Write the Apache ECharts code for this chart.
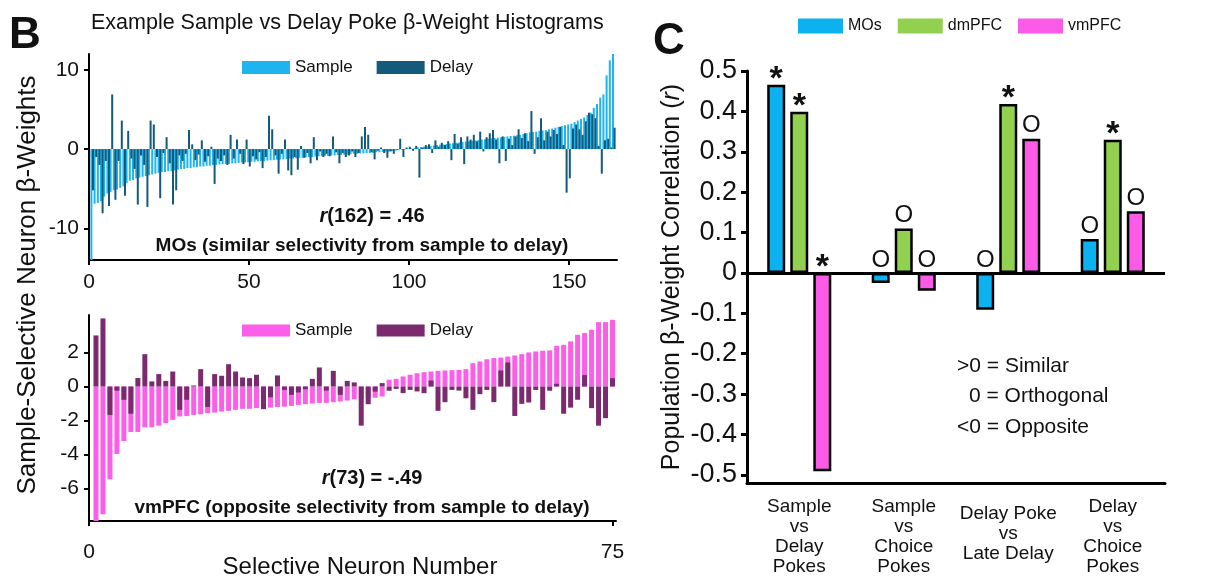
<!DOCTYPE html>
<html>
<head>
<meta charset="utf-8">
<title>Sample vs Delay β-weights</title>
<script src="https://cdn.jsdelivr.net/npm/echarts@6/dist/echarts.min.js"></script>
<style>
  html, body { margin: 0; padding: 0; background: #fff; }
  #chart { width: 1228px; height: 577px; }
</style>
</head>
<body>
<div id="chart"></div>
<script>
// B (top): MOs neurons, sorted by sample poke weight
const mosSample = [
  -14, -6.9, -6.8, -6.6, -6.0, -5.6, -5.4, -5.2, -5.1, -4.9,
  -4.7, -4.3, -4.0, -3.9, -3.7, -3.6, -3.5, -3.4, -3.3, -3.2,
  -3.1, -3.0, -2.9, -2.9, -2.8, -2.8, -2.7, -2.6, -2.5, -2.5,
  -2.4, -2.4, -2.3, -2.3, -2.2, -2.2, -2.1, -2.1, -2.0, -2.0,
  -1.95, -1.9, -1.9, -1.85, -1.8, -1.8, -1.75, -1.7, -1.7, -1.65,
  -1.6, -1.6, -1.55, -1.5, -1.5, -1.45, -1.4, -1.4, -1.35, -1.3,
  -1.3, -1.25, -1.2, -1.2, -1.15, -1.1, -1.1, -1.05, -1.0, -1.0,
  -0.95, -0.9, -0.9, -0.85, -0.85, -0.8, -0.8, -0.75, -0.75, -0.7,
  -0.7, -0.65, -0.6, -0.6, -0.55, -0.55, -0.5, -0.5, -0.45, -0.4,
  -0.4, -0.35, -0.3, -0.3, -0.25, -0.2, -0.15, -0.1, -0.05, 0.05,
  0.1, 0.15, 0.2, 0.25, 0.3, 0.35, 0.4, 0.45, 0.5, 0.55,
  0.6, 0.65, 0.7, 0.75, 0.8, 0.85, 0.9, 0.95, 1.0, 1.05,
  1.1, 1.15, 1.2, 1.25, 1.3, 1.35, 1.4, 1.45, 1.5, 1.55,
  1.6, 1.65, 1.7, 1.75, 1.8, 1.9, 2.0, 2.1, 2.15, 2.2,
  2.3, 2.35, 2.4, 2.5, 2.6, 2.7, 2.8, 2.9, 3.0, 3.1,
  3.2, 3.4, 3.6, 3.8, 4.0, 4.3, 4.6, 5.2, 5.7, 6.5,
  6.9, 9.3, 11.2, 12.0
];
const mosDelay = [
  -5.2, -1.0, -2.0, -8.1, -1.5, -7.2, 6.9, -6.4, -1.5, 3.6,
  -5.9, 2.3, -1.2, -2.5, -7.0, -0.8, -2.0, -7.3, 3.6, 3.1,
  -1.0, -6.2, -0.5, 1.5, -1.8, -7.0, -5.2, -0.8, -1.5, -0.6,
  2.4, 0.6, -1.4, -0.7, 1.1, -1.6, -0.9, 0.3, -4.4, -1.2,
  -1.5, -0.8, -2.0, 1.8, -1.2, 1.2, -0.6, -1.9, 1.2, -2.2,
  -0.9, -1.3, -0.4, -2.4, -1.0, 4.2, 2.5, -0.8, -3.1, -0.6,
  1.2, -2.7, -3.3, -1.0, -2.6, 0.4, -1.1, -0.5, -1.8, 1.5,
  -1.4, -0.3, -1.0, -0.6, -0.9, 1.6, -0.4, -1.8, -0.5, -1.0,
  -0.8, -0.3, -1.0, -0.5, 1.6, 2.8, 1.8, -0.4, -1.3, -0.2,
  0.2, -0.5, -1.1, -0.3, -0.6, -0.1, 1.3, -1.0, 0.2, 0.3,
  -0.2, 0.4, -3.6, 0.2, 0.5, 0.6, -0.5, 1.1, 0.3, 0.8,
  0.5, 1.0, -1.4, 1.9, 0.7, 1.5, -1.9, 1.6, 1.2, 1.8,
  1.0, 2.2, -0.3, 1.5, 2.0, 2.4, 1.2, -1.8, 1.6, -1.5,
  1.3, 0.5, 1.6, 2.5, 1.4, 2.0, 1.0, 4.8, -0.6, 1.5,
  3.9, 1.1, 2.2, 1.6, 2.4, 1.9, 2.8, 0.5, -5.5, -3.7,
  2.6, 3.1, 2.5, 1.8, 3.5, 4.6, 4.4, 3.9, 0.4, -3.1,
  1.1, 1.3, 0.2, 2.7
];
// B (bottom): vmPFC neurons
const vmSample = [
  -7.9, -7.5, -5.45, -3.96, -3.2, -2.67, -2.67, -2.4, -2.4, -2.3,
  -2.15, -1.96, -1.76, -1.73, -1.67, -1.63, -1.57, -1.53, -1.47, -1.43,
  -1.37, -1.31, -1.31, -1.27, -1.29, -1.24, -1.2, -1.18, -1.14, -1.08,
  -1.04, -1.0, -0.96, -0.96, -0.92, -0.88, -0.82, -0.75, -0.72, -0.7,
  -0.66, -0.59, 0.4, 0.45, 0.59, 0.69, 0.78, 0.84, 0.88, 0.92,
  0.94, 0.96, 0.98, 1.02, 1.37, 1.47, 1.6, 1.67, 1.7, 1.76,
  1.82, 1.9, 2.0, 2.06, 2.1, 2.12, 2.39, 2.45, 2.65, 3.04,
  3.14, 3.33, 3.78, 3.78, 3.92
];
const vmDelay = [
  3.0, 4.0, -1.67, -0.25, -0.78, -1.6, 0.5, 1.9, 0.3, 0.73,
  0.33, 0.88, -1.37, -0.78, 0.06, 1.02, -1.2, 0.73, 0.63, 1.31,
  0.88, 0.53, 0.49, 0.69, -1.33, -0.63, 0.65, -0.2, -0.49, -0.35,
  -0.16, 0.45, 1.12, -0.24, 0.92, -0.49, 0.33, 0.24, -2.3, -1.04,
  -0.3, 0.2, -0.25, -0.14, -0.39, -0.2, -0.29, -0.39, 0.35, -1.43,
  -0.92, -0.2, -0.24, -0.69, -1.37, -0.45, -0.2, -0.92, 0.94, 1.41,
  -1.73, -1.02, -0.94, -0.2, -1.37, -0.25, 0.16, -1.6, -1.24, -0.78,
  0.67, -1.27, -2.3, -1.86, 0.49
];
const mosTicksY = [-10, 0, 10];
const mosTicksX = [0, 50, 100, 150];
const vmTicksY = [-6, -4, -2, 0, 2];
const vmTicksX = [0, 75];

// C: population correlations
const comparisons = [
  'Sample\nvs\nDelay\nPokes',
  'Sample\nvs\nChoice\nPokes',
  'Delay Poke\nvs\nLate Delay',
  'Delay\nvs\nChoice\nPokes'
];
const corrMOs = [0.466, -0.025, -0.091, 0.084];
const corrDm = [0.399, 0.110, 0.418, 0.330];
const corrVm = [-0.491, -0.044, 0.332, 0.153];
const sigMOs = ['*', 'O', 'O', 'O'];
const sigDm = ['*', 'O', '*', '*'];
const sigVm = ['*', 'O', 'O', 'O'];
const corrTicks = [-0.5, -0.4, -0.3, -0.2, -0.1, 0, 0.1, 0.2, 0.3, 0.4, 0.5];

const FONT = 'Liberation Sans, Arial, Helvetica, sans-serif';

const chart = echarts.init(document.getElementById('chart'));

// 神经元编号从 1 开始
const pairs = arr => arr.map((v, i) => [i + 1, v]);

// 显著性标记，* 和 O 字号不同
const markedBars = (vals, sig) => vals.map((v, i) => ({
  value: v,
  label: { distance: sig[i] === '*' ? -12 : 1 }
}));

const sigLabel = sig => ({
  show: true, position: 'top',
  formatter: p => sig[p.dataIndex] === '*' ? '{s|*}' : '{o|O}',
  rich: {
    s: { fontFamily: FONT, fontSize: 34, fontWeight: 'bold', color: '#111' },
    o: { fontFamily: FONT, fontSize: 24, color: '#111' }
  }
});

const axisBase = {
  axisLine: { onZero: false, lineStyle: { color: '#000', width: 2 } },
  axisTick: { lineStyle: { color: '#000', width: 2 }, length: 5 },
  axisLabel: { color: '#111', fontFamily: FONT, fontSize: 21 },
  splitLine: { show: false }
};

const option = {
  animation: false,
  backgroundColor: '#fff',
  textStyle: { fontFamily: FONT },
  title: {
    text: 'Example Sample vs Delay Poke β-Weight Histograms',
    left: 86,
    top: 7,
    textStyle: { fontFamily: FONT, fontSize: 21.5, fontWeight: 'normal', color: '#111' }
  },
  legend: [
    {
      data: ['MOs Sample', 'MOs Delay'],
      left: 237, top: 54, icon: 'rect', itemWidth: 48, itemHeight: 13, itemGap: 24,
      formatter: n => n.split(' ')[1],
      textStyle: { fontFamily: FONT, fontSize: 17, color: '#111' }
    },
    {
      data: ['vmPFC Sample', 'vmPFC Delay'],
      left: 237, top: 317, icon: 'rect', itemWidth: 48, itemHeight: 12, itemGap: 24,
      formatter: n => n.split(' ')[1],
      textStyle: { fontFamily: FONT, fontSize: 17, color: '#111' }
    },
    {
      data: ['MOs', 'dmPFC', 'vmPFC'],
      left: 793, top: 13, icon: 'rect', itemWidth: 45, itemHeight: 15, itemGap: 16,
      itemStyle: { borderWidth: 0 },
      textStyle: { fontFamily: FONT, fontSize: 16, color: '#111' }
    }
  ],
  grid: [
    { left: 89, top: 54, width: 528, height: 206 },
    { left: 89, top: 315, width: 527, height: 206 },
    { left: 747, top: 71, width: 418, height: 414 }
  ],
  xAxis: [
    Object.assign({}, axisBase, {
      type: 'value', gridIndex: 0, min: 0, max: 165,
      axisTick: Object.assign({}, axisBase.axisTick, { customValues: mosTicksX }),
      axisLabel: Object.assign({}, axisBase.axisLabel, { customValues: mosTicksX, margin: 12 })
    }),
    Object.assign({}, axisBase, {
      type: 'value', gridIndex: 1, min: 0, max: 75.5,
      axisTick: Object.assign({}, axisBase.axisTick, { customValues: vmTicksX }),
      axisLabel: Object.assign({}, axisBase.axisLabel, { customValues: vmTicksX, margin: 21 })
    }),
    {
      type: 'category', gridIndex: 2,
      data: comparisons.map((c, i) => i === 2 ? { value: c, textStyle: { padding: [7, 0, 0, 0] } } : c),
      axisLine: { onZero: false, lineStyle: { color: '#000', width: 3 } },
      axisTick: { alignWithLabel: true, length: 6, lineStyle: { color: '#000', width: 3 } },
      axisLabel: { color: '#111', fontFamily: FONT, fontSize: 19, lineHeight: 20, margin: 14, interval: 0 }
    }
  ],
  yAxis: [
    Object.assign({}, axisBase, {
      type: 'value', gridIndex: 0, min: -14, max: 12,
      axisTick: Object.assign({}, axisBase.axisTick, { customValues: mosTicksY }),
      axisLabel: Object.assign({}, axisBase.axisLabel, { customValues: mosTicksY, margin: 10 })
    }),
    Object.assign({}, axisBase, {
      type: 'value', gridIndex: 1, min: -7.9, max: 4.2,
      axisTick: Object.assign({}, axisBase.axisTick, { customValues: vmTicksY }),
      axisLabel: Object.assign({}, axisBase.axisLabel, { customValues: vmTicksY, margin: 10 })
    }),
    {
      type: 'value', gridIndex: 2, min: -0.52, max: 0.5,
      splitLine: { show: false },
      axisLine: { show: true, lineStyle: { color: '#000', width: 3 } },
      axisTick: { show: true, customValues: corrTicks, length: 6, lineStyle: { color: '#000', width: 3 } },
      axisLabel: { customValues: corrTicks, color: '#111', fontFamily: FONT, fontSize: 27, margin: 10 },
      name: 'Population β-Weight Correlation ({i|r})',
      nameLocation: 'middle',
      nameGap: 62,
      nameTextStyle: {
        fontFamily: FONT, fontSize: 25, color: '#111',
        rich: { i: { fontFamily: FONT, fontSize: 25, fontStyle: 'italic', color: '#111' } }
      }
    }
  ],
  series: [
    {
      name: 'MOs Sample', type: 'bar', xAxisIndex: 0, yAxisIndex: 0,
      data: pairs(mosSample), barWidth: 2, barGap: '-20%',
      itemStyle: { color: '#1eb4ef' }
    },
    {
      name: 'MOs Delay', type: 'bar', xAxisIndex: 0, yAxisIndex: 0,
      data: pairs(mosDelay), barWidth: 2,
      itemStyle: { color: '#135a7b' }
    },
    {
      name: 'vmPFC Sample', type: 'bar', xAxisIndex: 1, yAxisIndex: 1,
      data: pairs(vmSample), barWidth: 5, barGap: '-100%',
      itemStyle: { color: '#fb5ee8' }
    },
    {
      name: 'vmPFC Delay', type: 'bar', xAxisIndex: 1, yAxisIndex: 1,
      data: pairs(vmDelay), barWidth: 5,
      itemStyle: { color: '#7b2b6d' }
    },
    {
      name: 'MOs', type: 'bar', xAxisIndex: 2, yAxisIndex: 2,
      data: markedBars(corrMOs, sigMOs), barWidth: 18, barGap: '28%',
      itemStyle: { color: '#0cb1ef', borderColor: '#000', borderWidth: 2.5 },
      label: sigLabel(sigMOs),
      markLine: {
        silent: true, symbol: 'none', label: { show: false },
        lineStyle: { color: '#000', width: 3, type: 'solid' },
        data: [{ yAxis: 0 }]
      }
    },
    {
      name: 'dmPFC', type: 'bar', xAxisIndex: 2, yAxisIndex: 2,
      data: markedBars(corrDm, sigDm), barWidth: 18,
      itemStyle: { color: '#92d050', borderColor: '#000', borderWidth: 2.5 },
      label: sigLabel(sigDm)
    },
    {
      name: 'vmPFC', type: 'bar', xAxisIndex: 2, yAxisIndex: 2,
      data: markedBars(corrVm, sigVm), barWidth: 18,
      itemStyle: { color: '#fb5be6', borderColor: '#000', borderWidth: 2.5 },
      label: sigLabel(sigVm)
    }
  ],
  graphic: [
    { type: 'text', left: 9, top: 14, style: { text: 'B', font: 'bold 44px ' + FONT, fill: '#111' } },
    { type: 'text', left: 653, top: 20, style: { text: 'C', font: 'bold 44px ' + FONT, fill: '#111' } },
    {
      type: 'text', x: 28, y: 285, rotation: Math.PI / 2,
      style: {
        text: 'Sample-Selective Neuron β-Weights', font: '26px ' + FONT, fill: '#111',
        textAlign: 'center', textVerticalAlign: 'middle'
      }
    },
    {
      type: 'text', x: 360, y: 567,
      style: {
        text: 'Selective Neuron Number', font: '24px ' + FONT, fill: '#111',
        textAlign: 'center', textVerticalAlign: 'middle'
      }
    },
    {
      type: 'text', x: 372, y: 216,
      style: {
        text: '{i|r}(162) = .46', font: 'bold 20px ' + FONT, fill: '#111',
        textAlign: 'center', textVerticalAlign: 'middle',
        rich: { i: { fontFamily: FONT, fontSize: 20, fontWeight: 'bold', fontStyle: 'italic', color: '#111' } }
      }
    },
    {
      type: 'text', x: 362, y: 246,
      style: {
        text: 'MOs (similar selectivity from sample to delay)', font: 'bold 19px ' + FONT, fill: '#111',
        textAlign: 'center', textVerticalAlign: 'middle'
      }
    },
    {
      type: 'text', x: 372, y: 478,
      style: {
        text: '{i|r}(73) = -.49', font: 'bold 20px ' + FONT, fill: '#111',
        textAlign: 'center', textVerticalAlign: 'middle',
        rich: { i: { fontFamily: FONT, fontSize: 20, fontWeight: 'bold', fontStyle: 'italic', color: '#111' } }
      }
    },
    {
      type: 'text', x: 362, y: 508,
      style: {
        text: 'vmPFC (opposite selectivity from sample to delay)', font: 'bold 19px ' + FONT, fill: '#111',
        textAlign: 'center', textVerticalAlign: 'middle'
      }
    },
    { type: 'text', x: 957, y: 366, style: { text: '>0 = Similar', font: '21px ' + FONT, fill: '#111', textVerticalAlign: 'middle' } },
    { type: 'text', x: 969, y: 396, style: { text: '0 = Orthogonal', font: '21px ' + FONT, fill: '#111', textVerticalAlign: 'middle' } },
    { type: 'text', x: 957, y: 427, style: { text: '<0 = Opposite', font: '21px ' + FONT, fill: '#111', textVerticalAlign: 'middle' } }
  ]
};

chart.setOption(option);
</script>
</body>
</html>
